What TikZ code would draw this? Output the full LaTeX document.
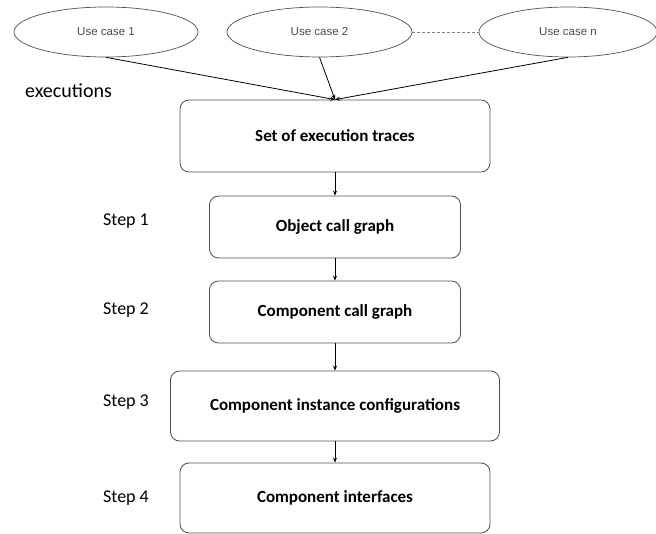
\documentclass[tikz,border=0pt]{standalone}
\usepackage{fontspec}
\setmainfont{Carlito}
\newfontfamily\arialfont{Liberation Sans}
\usetikzlibrary{shapes.geometric,arrows.meta}
\definecolor{boxline}{HTML}{505050}
\definecolor{ucgray}{HTML}{4A4A4A}
\begin{document}
\begin{tikzpicture}[x=1pt,y=-1pt,
  usecase/.style={ellipse,draw=boxline,line width=0.7pt,minimum height=50pt,inner sep=0pt,
    font=\arialfont\fontsize{11.5}{13}\selectfont,text=ucgray},
  stepbox/.style={draw=boxline,line width=0.8pt,rounded corners=9pt,inner sep=0pt,
    font=\bfseries\fontsize{17}{20}\selectfont},
  steplabel/.style={font=\fontsize{18}{21}\selectfont,inner sep=0pt},
  arr/.style={-{Stealth[length=5pt,width=4pt]},line width=0.8pt,draw=black},
]
\useasboundingbox (0,0) rectangle (656,534);
\fill[white] (0,0) rectangle (656,534);

\node[usecase,minimum width=184pt] (u1) at (106,32) {Use case 1};
\node[usecase,minimum width=185pt] (u2) at (319.5,32) {Use case 2};
\node[usecase,minimum width=178pt] (un) at (568,32) {Use case n};
\draw[densely dashed,line width=0.7pt,gray] (u2.east) -- (un.west);

\node[stepbox,minimum width=310pt,minimum height=72pt] (b1) at (335,136) {Set of execution traces};
\node[stepbox,minimum width=251pt,minimum height=62pt] (b2) at (335,227) {Object call graph};
\node[stepbox,minimum width=251pt,minimum height=62pt] (b3) at (335,312) {Component call graph};
\node[stepbox,minimum width=329pt,minimum height=70pt] (b4) at (335,406) {Component instance configurations};
\node[stepbox,minimum width=310pt,minimum height=70pt] (b5) at (335,498) {Component interfaces};

\node[steplabel,font=\fontsize{20}{23}\selectfont] (ex) at (68.5,91) {executions};
\node[steplabel] (s1) at (126,221) {Step 1};
\node[steplabel] (s2) at (126,310) {Step 2};
\node[steplabel] (s3) at (126,402) {Step 3};
\node[steplabel] (s4) at (126,498) {Step 4};

\draw[arr] (u1.south) -- (b1.north);
\draw[arr] (u2.south) -- (b1.north);
\draw[arr] (un.south) -- (b1.north);
\draw[arr] (b1.south) -- (b2.north);
\draw[arr] (b2.south) -- (b3.north);
\draw[arr] (b3.south) -- (b4.north);
\draw[arr] (b4.south) -- (b5.north);
\end{tikzpicture}
\end{document}
